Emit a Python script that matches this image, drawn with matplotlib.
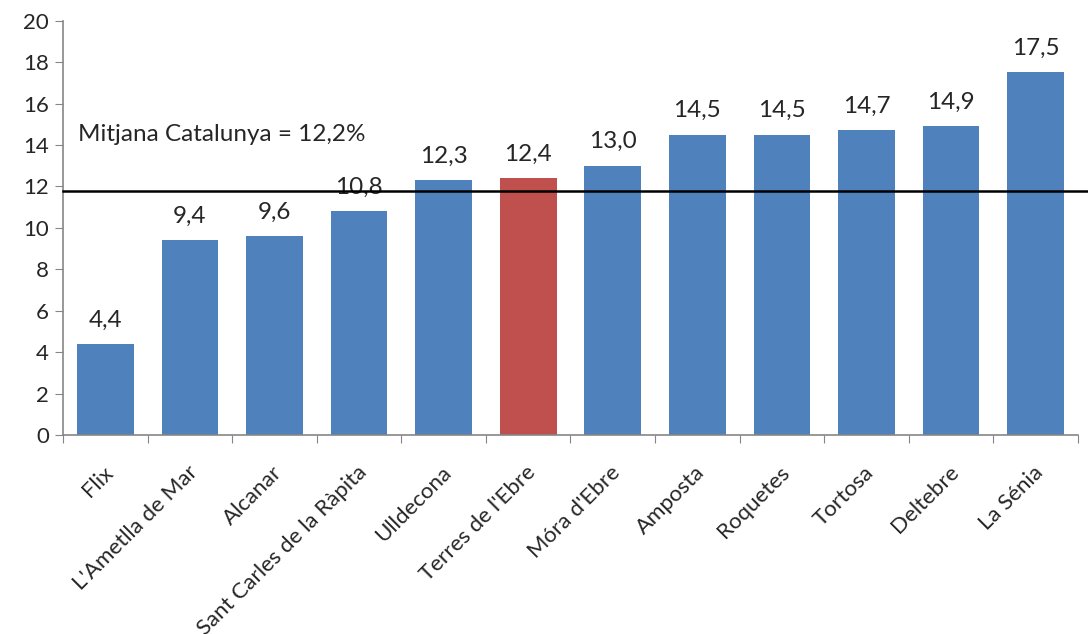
import matplotlib.pyplot as plt
import numpy as np

plt.rcParams['font.family'] = ['Lato', 'DejaVu Sans']

# municipis i valors (%)
labels = ['Flix', "L'Ametlla de Mar", 'Alcanar', 'Sant Carles de la Ràpita',
          'Ulldecona', "Terres de l'Ebre", "Móra d'Ebre", 'Amposta',
          'Roquetes', 'Tortosa', 'Deltebre', 'La Sénia']
values = [4.4, 9.4, 9.6, 10.8, 12.3, 12.4, 13.0, 14.5, 14.5, 14.7, 14.9, 17.5]
highlight = "Terres de l'Ebre"
mean_line = 11.8
mean_text = 'Mitjana Catalunya = 12,2%'

blue = '#4F81BD'
red = '#C0504D'
grey = '#868686'
txt = '#262626'

fig = plt.figure(figsize=(10.88, 6.34), dpi=100)
ax = fig.add_axes([0.0579, 0.3139, 0.9329, 0.6535])

x = np.arange(len(labels))
colors = [red if l == highlight else blue for l in labels]
ax.bar(x, values, width=0.67, color=colors, zorder=2)

for xi, v in zip(x, values):
    ax.text(xi, v + 0.65, f'{v:.1f}'.replace('.', ','), ha='center', va='bottom',
            fontsize=17.5, color=txt)

ax.axhline(mean_line, color='black', lw=1.8, zorder=3, xmax=1.02, clip_on=False)
ax.text(-0.32, 14.5, mean_text, ha='left', va='center', fontsize=17.5, color=txt)

ax.set_xlim(-0.5, len(labels) - 0.5)
ax.set_ylim(0, 20)
ax.set_yticks(np.arange(0, 21, 2))
ax.tick_params(axis='y', labelsize=16, length=6, color=grey, labelcolor=txt, pad=4)

# ticks between categories
ax.set_xticks(np.arange(-0.5, len(labels), 1.0))
ax.set_xticklabels([])
ax.tick_params(axis='x', length=6, color=grey)
for xi, l in zip(x, labels):
    ax.text(xi + 0.05, -1.65, l, rotation=45, ha='right', va='center',
            rotation_mode='anchor', fontsize=16, color=txt)

for s in ['top', 'right']:
    ax.spines[s].set_visible(False)
for s in ['left', 'bottom']:
    ax.spines[s].set_color(grey)
    ax.spines[s].set_linewidth(1.2)

fig.savefig('out.png', dpi=100)
